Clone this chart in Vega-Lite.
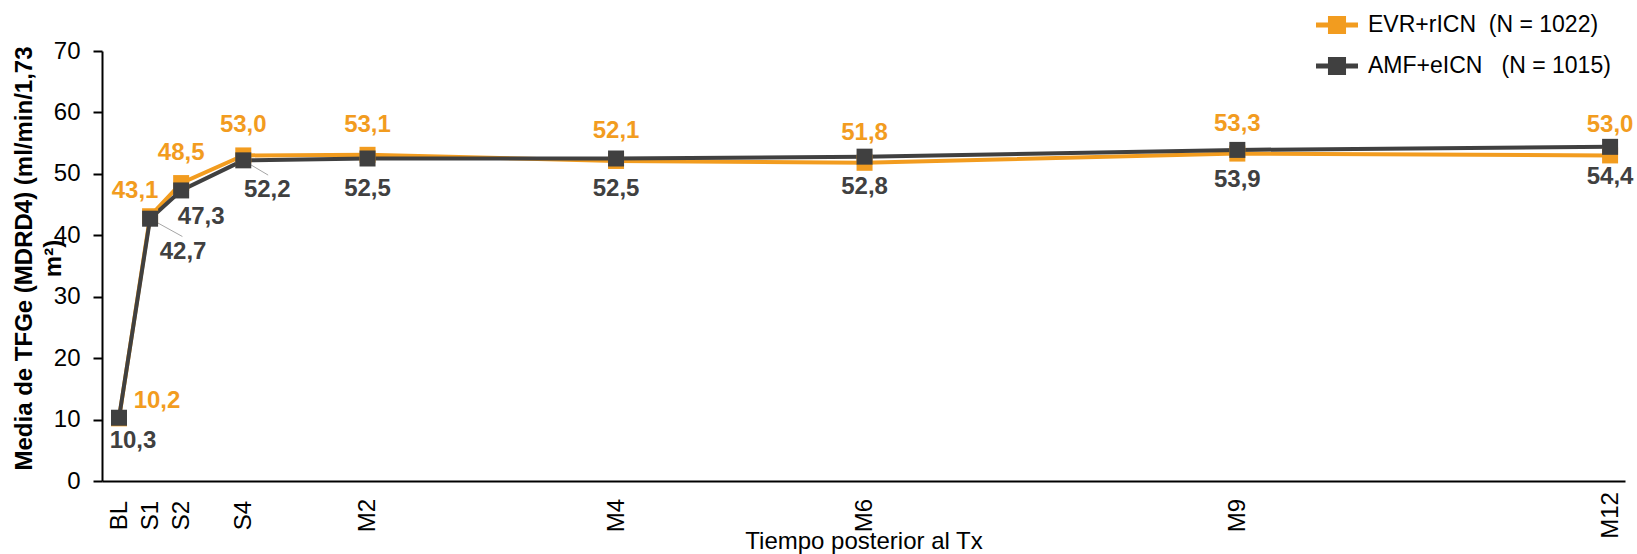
{
  "$schema": "https://vega.github.io/schema/vega-lite/v6.json",
  "autosize": "none",
  "width": 1523,
  "height": 430,
  "padding": {"left": 102, "top": 51, "right": 12, "bottom": 73},
  "background": "white",
  "config": {
    "font": "Liberation Sans",
    "view": {"stroke": null},
    "locale": {"number": {"decimal": ",", "thousands": ".", "grouping": [3], "currency": ["", " €"]}},
    "legend": {
      "orient": "none",
      "legendX": 1214,
      "legendY": -47,
      "title": null,
      "symbolType": "M-1,-0.12H1V0.12H-1Z M-0.43,-0.43H0.43V0.43H-0.43Z",
      "symbolSize": 1764,
      "symbolStrokeWidth": 0,
      "labelFontSize": 23,
      "labelColor": "#000000",
      "labelOffset": 10,
      "rowPadding": 8,
      "labelLimit": 400
    }
  },
  "datasets": {
    "tfg": [
      {"t": 0, "serie": "EVR+rICN\u00a0\u00a0(N = 1022)", "valor": 10.2},
      {"t": 0.25, "serie": "EVR+rICN\u00a0\u00a0(N = 1022)", "valor": 43.1},
      {"t": 0.5, "serie": "EVR+rICN\u00a0\u00a0(N = 1022)", "valor": 48.5},
      {"t": 1, "serie": "EVR+rICN\u00a0\u00a0(N = 1022)", "valor": 53.0},
      {"t": 2, "serie": "EVR+rICN\u00a0\u00a0(N = 1022)", "valor": 53.1},
      {"t": 4, "serie": "EVR+rICN\u00a0\u00a0(N = 1022)", "valor": 52.1},
      {"t": 6, "serie": "EVR+rICN\u00a0\u00a0(N = 1022)", "valor": 51.8},
      {"t": 9, "serie": "EVR+rICN\u00a0\u00a0(N = 1022)", "valor": 53.3},
      {"t": 12, "serie": "EVR+rICN\u00a0\u00a0(N = 1022)", "valor": 53.0},
      {"t": 0, "serie": "AMF+eICN\u00a0\u00a0\u00a0(N = 1015)", "valor": 10.3},
      {"t": 0.25, "serie": "AMF+eICN\u00a0\u00a0\u00a0(N = 1015)", "valor": 42.7},
      {"t": 0.5, "serie": "AMF+eICN\u00a0\u00a0\u00a0(N = 1015)", "valor": 47.3},
      {"t": 1, "serie": "AMF+eICN\u00a0\u00a0\u00a0(N = 1015)", "valor": 52.2},
      {"t": 2, "serie": "AMF+eICN\u00a0\u00a0\u00a0(N = 1015)", "valor": 52.5},
      {"t": 4, "serie": "AMF+eICN\u00a0\u00a0\u00a0(N = 1015)", "valor": 52.5},
      {"t": 6, "serie": "AMF+eICN\u00a0\u00a0\u00a0(N = 1015)", "valor": 52.8},
      {"t": 9, "serie": "AMF+eICN\u00a0\u00a0\u00a0(N = 1015)", "valor": 53.9},
      {"t": 12, "serie": "AMF+eICN\u00a0\u00a0\u00a0(N = 1015)", "valor": 54.4}
    ],
    "guias": [
      {"t": 0.25, "valor": 42.7, "t2": 0.51, "valor2": 39.8},
      {"t": 1, "valor": 52.2, "t2": 1.2, "valor2": 49.8}
    ]
  },
  "layer": [
    {
      "data": {"name": "guias"},
      "mark": {"type": "rule", "color": "#A6A6A6", "strokeWidth": 1},
      "encoding": {
        "x": {"field": "t", "type": "quantitative", "scale": {"domain": [-0.137, 12.12], "nice": false, "zero": false}},
        "x2": {"field": "t2"},
        "y": {"field": "valor", "type": "quantitative", "scale": {"domain": [0, 70], "nice": false}},
        "y2": {"field": "valor2"}
      }
    },
    {
      "data": {"name": "tfg"},
      "mark": {"type": "line", "strokeWidth": 4},
      "encoding": {
        "x": {
          "field": "t", "type": "quantitative",
          "scale": {"domain": [-0.137, 12.12], "nice": false, "zero": false},
          "axis": {
            "values": [0, 0.25, 0.5, 1, 2, 4, 6, 9, 12],
            "labelExpr": "datum.value == 0 ? 'BL' : datum.value == 0.25 ? 'S1' : datum.value == 0.5 ? 'S2' : datum.value == 1 ? 'S4' : 'M' + datum.value",
            "labelAngle": 270,
            "labelAlign": "center",
            "labelBaseline": "middle",
            "labelPadding": 34,
            "labelFontSize": 24,
            "labelColor": "#000000",
            "labelOverlap": false,
            "labelFlush": false,
            "labelBound": false,
            "ticks": false,
            "grid": false,
            "domainColor": "#000000",
            "domainWidth": 2,
            "title": "Tiempo posterior al Tx",
            "titleFontSize": 24,
            "titleFontWeight": "normal",
            "titleColor": "#000000",
            "titleY": 67,
            "titleBaseline": "alphabetic"
          }
        },
        "y": {
          "field": "valor", "type": "quantitative",
          "scale": {"domain": [0, 70], "nice": false},
          "axis": {
            "values": [0, 10, 20, 30, 40, 50, 60, 70],
            "tickSize": 9,
            "tickWidth": 2,
            "tickColor": "#000000",
            "domainColor": "#000000",
            "domainWidth": 2,
            "grid": false,
            "labelFontSize": 24,
            "labelPadding": 13,
            "labelColor": "#000000",
            "title": ["Media de TFGe (MDRD4) (ml/min/1,73", "m²)"],
            "titleFontSize": 24,
            "titleFontWeight": "bold",
            "titleColor": "#000000",
            "titleAngle": 270,
            "titleAlign": "center",
            "titleBaseline": "top",
            "titleLineHeight": 29,
            "titleX": -90,
            "titleY": 207
          }
        },
        "color": {
          "field": "serie", "type": "nominal",
          "scale": {"domain": ["EVR+rICN\u00a0\u00a0(N = 1022)", "AMF+eICN\u00a0\u00a0\u00a0(N = 1015)"], "range": ["#F29C1F", "#404040"]},
          "legend": {"rowPadding": 8, "encode": {"symbols": {"update": {"fill": {"scale": "color", "field": "value"}, "stroke": {"value": "transparent"}, "opacity": {"value": 1}}}}}
        }
      }
    },
    {
      "data": {"name": "tfg"},
      "mark": {"type": "point", "shape": "square", "filled": true, "size": 256, "opacity": 1},
      "encoding": {
        "x": {"field": "t", "type": "quantitative"},
        "y": {"field": "valor", "type": "quantitative"},
        "color": {
          "field": "serie", "type": "nominal",
          "legend": {"rowPadding": 8, "encode": {"symbols": {"update": {"fill": {"scale": "color", "field": "value"}, "stroke": {"value": "transparent"}, "opacity": {"value": 1}}}}}
        }
      }
    },
    {
      "data": {"name": "tfg"},
      "transform": [{"filter": "indexof(datum.serie, 'EVR') == 0 && datum.t >= 0.5"}],
      "mark": {"type": "text", "fontSize": 24, "fontWeight": "bold", "color": "#F29C1F", "dy": -30, "align": "center", "baseline": "middle"},
      "encoding": {"x": {"field": "t", "type": "quantitative"}, "y": {"field": "valor", "type": "quantitative"}, "text": {"field": "valor", "type": "quantitative", "format": ".1f"}}
    },
    {
      "data": {"name": "tfg"},
      "transform": [{"filter": "indexof(datum.serie, 'AMF') == 0 && datum.t >= 2"}],
      "mark": {"type": "text", "fontSize": 24, "fontWeight": "bold", "color": "#404040", "dy": 30, "align": "center", "baseline": "middle"},
      "encoding": {"x": {"field": "t", "type": "quantitative"}, "y": {"field": "valor", "type": "quantitative"}, "text": {"field": "valor", "type": "quantitative", "format": ".1f"}}
    },
    {
      "data": {"name": "tfg"},
      "transform": [{"filter": "indexof(datum.serie, 'EVR') == 0 && datum.t == 0"}],
      "mark": {"type": "text", "fontSize": 24, "fontWeight": "bold", "color": "#F29C1F", "dx": 38, "dy": -17, "align": "center", "baseline": "middle"},
      "encoding": {"x": {"field": "t", "type": "quantitative"}, "y": {"field": "valor", "type": "quantitative"}, "text": {"field": "valor", "type": "quantitative", "format": ".1f"}}
    },
    {
      "data": {"name": "tfg"},
      "transform": [{"filter": "indexof(datum.serie, 'AMF') == 0 && datum.t == 0"}],
      "mark": {"type": "text", "fontSize": 24, "fontWeight": "bold", "color": "#404040", "dx": 14, "dy": 23, "align": "center", "baseline": "middle"},
      "encoding": {"x": {"field": "t", "type": "quantitative"}, "y": {"field": "valor", "type": "quantitative"}, "text": {"field": "valor", "type": "quantitative", "format": ".1f"}}
    },
    {
      "data": {"name": "tfg"},
      "transform": [{"filter": "indexof(datum.serie, 'EVR') == 0 && datum.t == 0.25"}],
      "mark": {"type": "text", "fontSize": 24, "fontWeight": "bold", "color": "#F29C1F", "dx": -15, "dy": -25, "align": "center", "baseline": "middle"},
      "encoding": {"x": {"field": "t", "type": "quantitative"}, "y": {"field": "valor", "type": "quantitative"}, "text": {"field": "valor", "type": "quantitative", "format": ".1f"}}
    },
    {
      "data": {"name": "tfg"},
      "transform": [{"filter": "indexof(datum.serie, 'AMF') == 0 && datum.t == 0.25"}],
      "mark": {"type": "text", "fontSize": 24, "fontWeight": "bold", "color": "#404040", "dx": 33, "dy": 33, "align": "center", "baseline": "middle"},
      "encoding": {"x": {"field": "t", "type": "quantitative"}, "y": {"field": "valor", "type": "quantitative"}, "text": {"field": "valor", "type": "quantitative", "format": ".1f"}}
    },
    {
      "data": {"name": "tfg"},
      "transform": [{"filter": "indexof(datum.serie, 'AMF') == 0 && datum.t == 0.5"}],
      "mark": {"type": "text", "fontSize": 24, "fontWeight": "bold", "color": "#404040", "dx": 20, "dy": 27, "align": "center", "baseline": "middle"},
      "encoding": {"x": {"field": "t", "type": "quantitative"}, "y": {"field": "valor", "type": "quantitative"}, "text": {"field": "valor", "type": "quantitative", "format": ".1f"}}
    },
    {
      "data": {"name": "tfg"},
      "transform": [{"filter": "indexof(datum.serie, 'AMF') == 0 && datum.t == 1"}],
      "mark": {"type": "text", "fontSize": 24, "fontWeight": "bold", "color": "#404040", "dx": 24, "dy": 30, "align": "center", "baseline": "middle"},
      "encoding": {"x": {"field": "t", "type": "quantitative"}, "y": {"field": "valor", "type": "quantitative"}, "text": {"field": "valor", "type": "quantitative", "format": ".1f"}}
    }
  ]
}
